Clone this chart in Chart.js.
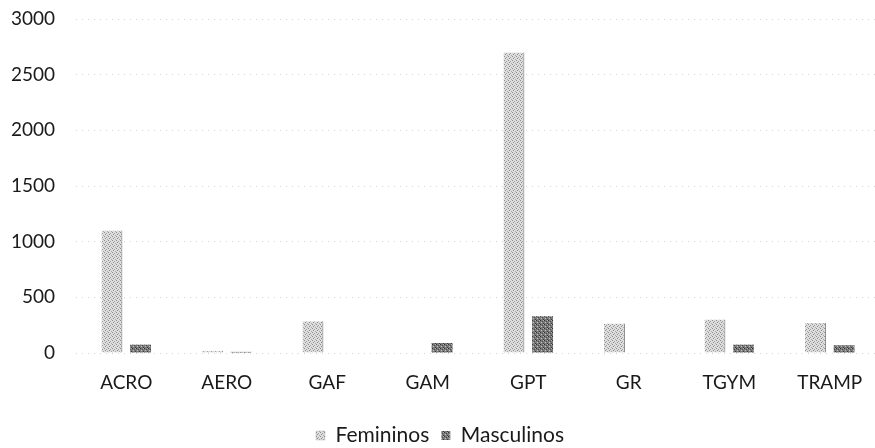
<!DOCTYPE html>
<html>
<head>
<meta charset="utf-8">
<script src="https://cdn.jsdelivr.net/npm/chart.js@4"></script>
<style>
  html, body { margin: 0; padding: 0; background: #fff; overflow: hidden; }
  #wrap { width: 910px; height: 448px; position: relative; }
</style>
</head>
<body>
<div id="wrap"><canvas id="genderChart"></canvas></div>
<script>
const CATEGORIES = ["ACRO", "AERO", "GAF", "GAM", "GPT", "GR", "TGYM", "TRAMP"];
const FEMININOS = [1100, 20, 285, 5, 2700, 265, 300, 270];
const MASCULINOS = [75, 10, 0, 90, 330, 0, 75, 70];
const Y_TICKS = [0, 500, 1000, 1500, 2000, 2500, 3000];

function makePattern(bg, dots) {
  const c = document.createElement("canvas");
  c.width = 4;
  c.height = 4;
  const g = c.getContext("2d");
  g.fillStyle = bg;
  g.fillRect(0, 0, 4, 4);
  dots.forEach(function(d) {
    g.fillStyle = d[2];
    g.fillRect(d[0], d[1], 1, 1);
  });
  return g.createPattern(c, "repeat");
}

const femFill = makePattern("#dedede", [[0, 0, "#8c8c8c"], [2, 1, "#a0a0a0"], [1, 2, "#8c8c8c"], [3, 3, "#a8a8a8"]]);
const mascFill = makePattern("#7a7a7a", [[0, 0, "#303030"], [2, 1, "#4a4a4a"], [1, 2, "#c0c0c0"], [3, 3, "#3a3a3a"], [3, 0, "#b0b0b0"]]);

const FONT = { family: "Lato, 'Open Sans', sans-serif", size: 19 };

(function() {
  const ctx = document.getElementById("genderChart").getContext("2d");
  window.genderChart = new Chart(ctx, {
    type: "bar",
    data: {
      labels: CATEGORIES,
      datasets: [
        {
          label: "Femininos",
          backgroundColor: femFill,
          borderColor: "#707070",
          borderWidth: { right: 1 },
          data: FEMININOS
        },
        {
          label: "Masculinos",
          backgroundColor: mascFill,
          borderColor: "#404040",
          borderWidth: 0,
          data: MASCULINOS
        }
      ]
    },
    options: {
      responsive: true,
      maintainAspectRatio: false,
      animation: false,
      // negative bottom padding pulls the legend down towards the page edge
      layout: { padding: { top: 19, right: 30, bottom: -8, left: 0 } },
      datasets: {
        bar: { categoryPercentage: 0.57, barPercentage: 0.73 }
      },
      plugins: {
        legend: {
          position: "bottom",
          labels: {
            font: { family: FONT.family, size: 21 },
            color: "#1a1a1a",
            boxWidth: 9,
            boxHeight: 9,
            padding: 12
          }
        },
        tooltip: { enabled: false }
      },
      scales: {
        x: {
          grid: { display: false, drawTicks: false },
          border: { display: false },
          ticks: { font: FONT, color: "#1a1a1a", padding: 18 },
          afterFit: function(s) { s.height = 60; s.paddingLeft = 0; s.paddingRight = 0; }
        },
        y: {
          min: 0,
          max: 3000,
          afterBuildTicks: function(s) {
            s.ticks = Y_TICKS.map(function(v) { return { value: v }; });
          },
          grid: { color: "#d4d4d4", drawTicks: false, lineWidth: 1 },
          border: { display: false, dash: [1, 5] },
          ticks: {
            font: FONT,
            color: "#1a1a1a",
            padding: 21,
            callback: function(v) { return String(v); }
          },
          afterFit: function(s) { s.width = 76; s.paddingTop = 0; s.paddingBottom = 0; }
        }
      }
    }
  });
})();
</script>
</body>
</html>
